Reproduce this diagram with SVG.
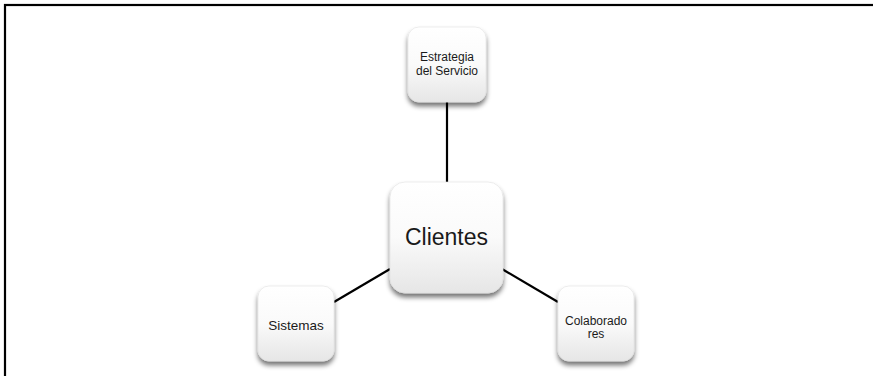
<svg xmlns="http://www.w3.org/2000/svg" width="873" height="376" viewBox="0 0 873 376">
<defs>
<linearGradient id="g" x1="0" y1="0" x2="0" y2="1">
<stop offset="0" stop-color="#ffffff"/>
<stop offset="0.5" stop-color="#fafafa"/>
<stop offset="1" stop-color="#e6e6e6"/>
</linearGradient>
<filter id="sh" x="-30%" y="-30%" width="160%" height="170%">
<feGaussianBlur in="SourceAlpha" stdDeviation="2.5"/>
<feOffset dx="0" dy="4" result="b"/>
<feComponentTransfer><feFuncA type="linear" slope="0.55"/></feComponentTransfer>
<feMerge><feMergeNode/><feMergeNode in="SourceGraphic"/></feMerge>
</filter>
</defs>
<style>
.box{fill:url(#g);stroke:#e0e0e0;stroke-width:0.6;filter:url(#sh)}
.t{font-family:"Liberation Sans",Arial,sans-serif;fill:#1a1a1a;text-anchor:middle}
.c{stroke:#000;stroke-width:2.2;fill:none}
</style>
<rect x="5" y="5" width="900" height="420" fill="#fff" stroke="#000" stroke-width="2.2"/>
<g id="connectors">
<line class="c" x1="447" y1="102" x2="447" y2="182"/>
<line class="c" x1="334" y1="302" x2="390" y2="269"/>
<line class="c" x1="502" y1="269" x2="558" y2="302"/>
</g>
<g id="estrategia">
<rect class="box" x="408" y="27" width="78" height="75" rx="11"/>
<text class="t" x="447" y="61" font-size="12">Estrategia</text>
<text class="t" x="447" y="75" font-size="12">del Servicio</text>
</g>
<g id="clientes">
<rect class="box" x="390" y="182" width="113" height="111" rx="15"/>
<text class="t" x="446.5" y="245" font-size="23">Clientes</text>
</g>
<g id="sistemas">
<rect class="box" x="258" y="286" width="76" height="75" rx="11"/>
<text class="t" x="296" y="330" font-size="13.5">Sistemas</text>
</g>
<g id="colaboradores">
<rect class="box" x="558" y="286" width="76" height="75" rx="11"/>
<text class="t" x="596" y="325" font-size="12">Colaborado</text>
<text class="t" x="596" y="338" font-size="12">res</text>
</g>
</svg>
